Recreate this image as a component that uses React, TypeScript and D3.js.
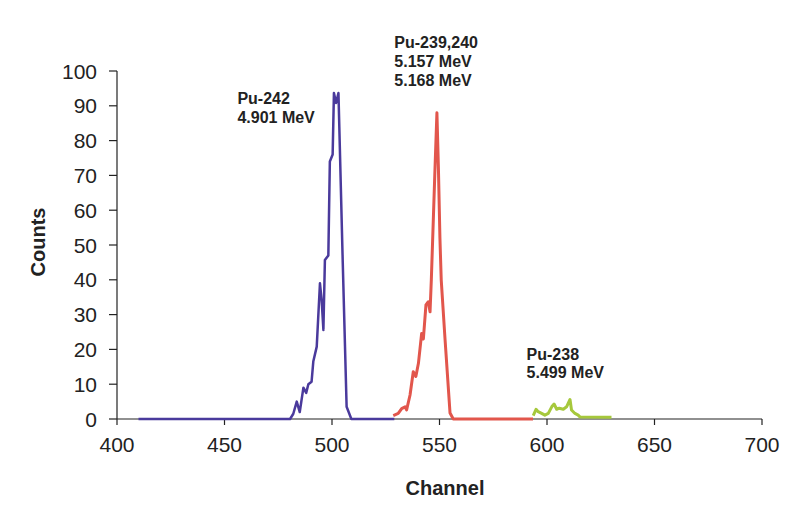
import React from "react";
import * as d3 from "d3";

const xTicks = [400, 450, 500, 550, 600, 650, 700];
const yTicks = [0, 10, 20, 30, 40, 50, 60, 70, 80, 90, 100];

// [channel, counts]
const pu242: [number, number][] = [
  [410, 0], [480.5, 0], [482, 1.5], [483.6, 5], [485, 2], [486.7, 9], [488, 7.5], [489, 10],
  [490.5, 10.7], [491.3, 16.5], [492.9, 20.8], [494.4, 39], [495.2, 34], [496, 25.6],
  [496.7, 45.7], [498.3, 47], [499, 74], [500.3, 76], [500.9, 93.7], [501.9, 90.8],
  [503, 93.7], [503.4, 84], [505, 45], [506.8, 3.5], [509, 0], [529, 0],
];

const pu239: [number, number][] = [
  [528.5, 1], [530.8, 1.6], [532.4, 3], [534, 3.5], [534.7, 2.6], [536.3, 6.9], [537.8, 13.6],
  [539, 12.2], [540.2, 16], [541.7, 24.6], [542.5, 23], [543.7, 32.8], [544.8, 33.7],
  [545.6, 30.8], [546.2, 40], [547, 55], [547.8, 70], [548.8, 88], [549.5, 72], [550.2, 52],
  [550.8, 40], [552.6, 22.7], [554.9, 1.7], [556.4, 0], [593.5, 0],
];

const pu238: [number, number][] = [
  [593.6, 1], [594.9, 2.8], [595.9, 2.1], [597.5, 1.6], [599, 1.1], [600.6, 1.6], [602.2, 3.5],
  [603.3, 4.3], [604.5, 2.8], [605.7, 3.1], [607.6, 2.8], [609.1, 3.5], [610.7, 5.6],
  [611.4, 2.6], [613, 1.6], [614.5, 1.1], [615.3, 0.6], [630, 0.5],
];

const labels242 = ["Pu-242", "4.901 MeV"];
const labels239 = ["Pu-239,240", "5.157 MeV", "5.168 MeV"];
const labels238 = ["Pu-238", "5.499 MeV"];

export default function App() {
  const W = 803, H = 510;
  const x = d3.scaleLinear().domain([400, 700]).range([117, 762]);
  const y = d3.scaleLinear().domain([0, 100]).range([419, 71]);
  const line = d3.line<[number, number]>().x((d) => x(d[0])).y((d) => y(d[1]));
  const font = "'Liberation Sans', Arial, sans-serif";
  const txt = "#222";

  const annot = (lines: string[], ch: number, cnt: number, dy: number) =>
    lines.map((t, i) => (
      <text key={t} x={x(ch)} y={y(cnt) + i * dy} fontSize={16} fontWeight="bold" fill={txt} fontFamily={font}>
        {t}
      </text>
    ));

  return (
    <svg width={W} height={H} style={{ position: "absolute", left: 0, top: 0, background: "#fff" }}>
      <rect width={W} height={H} fill="#fff" />
      {/* axes */}
      <line x1={x(400)} x2={x(400)} y1={y(100)} y2={y(0)} stroke={txt} strokeWidth={1.2} />
      <line x1={x(400)} x2={x(700)} y1={y(0)} y2={y(0)} stroke={txt} strokeWidth={1.2} />
      {yTicks.map((t) => (
        <g key={"y" + t}>
          <line x1={x(400) - 8} x2={x(400)} y1={y(t)} y2={y(t)} stroke={txt} strokeWidth={1.2} />
          <text x={97} y={y(t)} dy="0.36em" textAnchor="end" fontSize={21} fill={txt} fontFamily={font}>
            {t}
          </text>
        </g>
      ))}
      {xTicks.map((t) => (
        <g key={"x" + t}>
          <line x1={x(t)} x2={x(t)} y1={y(0)} y2={y(0) + 6} stroke={txt} strokeWidth={1.2} />
          <text x={x(t)} y={452} textAnchor="middle" fontSize={21} fill={txt} fontFamily={font}>
            {t}
          </text>
        </g>
      ))}
      <text x={445} y={495} textAnchor="middle" fontSize={20} fontWeight="bold" fill={txt} fontFamily={font}>
        Channel
      </text>
      <text transform="translate(45,242) rotate(-90)" textAnchor="middle" fontSize={20} fontWeight="bold" fill={txt} fontFamily={font}>
        Counts
      </text>
      {/* series */}
      <path d={line(pu242) || ""} fill="none" stroke="#4a3a9c" strokeWidth={2.5} strokeLinejoin="round" />
      <path d={line(pu239) || ""} fill="none" stroke="#e2564c" strokeWidth={3} strokeLinejoin="round" />
      <path d={line(pu238) || ""} fill="none" stroke="#a6c83c" strokeWidth={3} strokeLinejoin="round" />
      {/* annotations */}
      {annot(labels242, 456, 90.5, 19)}
      {annot(labels239, 529, 106.5, 19)}
      {annot(labels238, 590.5, 17, 18)}
    </svg>
  );
}
